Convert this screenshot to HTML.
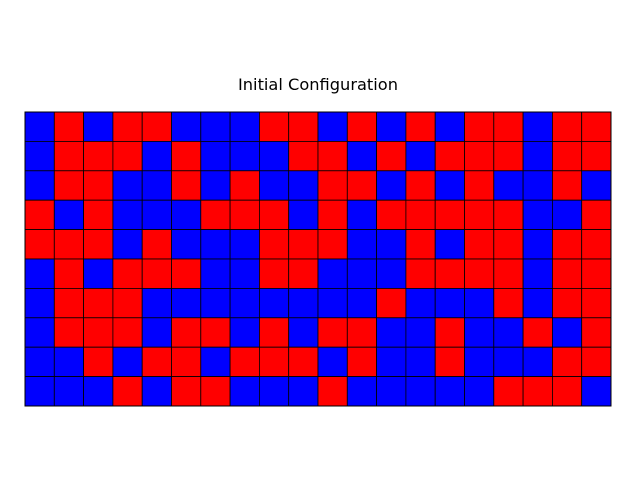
<!DOCTYPE html>
<html><head><meta charset="utf-8"><style>
html,body{margin:0;padding:0;background:#fff;}
svg{display:block;}
</style></head><body>
<svg width="640" height="480">
<rect width="640" height="480" fill="#fff"/>
<text x="318" y="90" text-anchor="middle" font-family="DejaVu Sans, Liberation Sans, sans-serif" font-size="16" textLength="160" lengthAdjust="spacingAndGlyphs" fill="#000">Initial Configuration</text>
<g id="grid"></g>
<rect x="25" y="112" width="586" height="294" fill="none" stroke="#000" stroke-width="1"/>
</svg>
<script>
const rows = [
"BRBRRBBBRRBRBRBRRBRR",
"BRRRBRBBBRRBRBRRRBRR",
"BRRBBRBRBBRRBRBRBBRB",
"RBRBBBRRRBRBRRRRRBBR",
"RRRBRBBBRRRBBRBRRBRR",
"BRBRRRBBRRBBBRRRRBRR",
"BRRRBBBBBBBBRBBBRBRR",
"BRRRBRRBRBRRBBRBBRBR",
"BBRBRRBRRRBRBBRBBBRR",
"BBBRBRRBBBRBBBBBRRRB"
];
const nCols = 20, nRows = rows.length;
const x0 = 25, x1 = 611, y0 = 112, y1 = 406;
const xScale = c => x0 + c * (x1 - x0) / nCols;
const yScale = r => y0 + r * (y1 - y0) / nRows;
const g = document.getElementById('grid');
const NS = 'http://www.w3.org/2000/svg';
rows.forEach((row, r) => {
  for (let c = 0; c < nCols; c++) {
    const rect = document.createElementNS(NS, 'rect');
    rect.setAttribute('x', xScale(c));
    rect.setAttribute('y', yScale(r));
    rect.setAttribute('width', xScale(c + 1) - xScale(c));
    rect.setAttribute('height', yScale(r + 1) - yScale(r));
    rect.setAttribute('fill', row[c] === 'R' ? '#ff0000' : '#0000ff');
    rect.setAttribute('stroke', '#000');
    rect.setAttribute('stroke-width', '0.8');
    
    
    g.appendChild(rect);
  }
});
</script>
</body></html>
